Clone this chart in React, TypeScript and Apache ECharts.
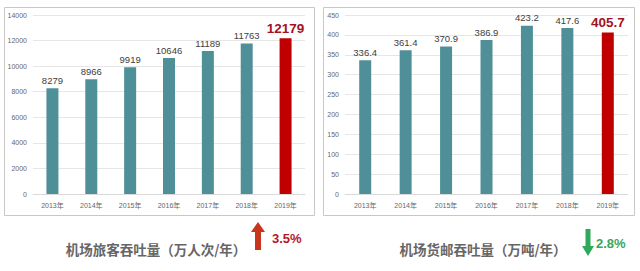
import React, { useEffect, useRef } from "react";
import * as echarts from "echarts";

const years = ["2013年", "2014年", "2015年", "2016年", "2017年", "2018年", "2019年"];
const passengers = [8279, 8966, 9919, 10646, 11189, 11763, 12179];
const cargo = [336.4, 361.4, 370.9, 386.9, 423.2, 417.6, 405.7];
const leftTitle = "机场旅客吞吐量（万人次/年）";
const rightTitle = "机场货邮吞吐量（万吨/年）";
const leftChange = "3.5%";
const rightChange = "2.8%";

const TEAL = "#4f9098";
const RED = "#c00000";
const FONT = "Liberation Sans, Arial, Noto Sans CJK SC, sans-serif";

function barData(vals: number[]) {
  return vals.map((v, i) =>
    i === vals.length - 1
      ? {
          value: v,
          itemStyle: { color: RED },
          label: { fontSize: 13.5, fontWeight: "bold", color: "#a3121f" },
        }
      : { value: v }
  );
}

export default function App() {
  const ref = useRef<HTMLDivElement>(null);
  useEffect(() => {
    if (!ref.current) return;
    const chart = echarts.init(ref.current, undefined, { renderer: "svg" });
    const axisLabel = { fontSize: 7, color: "#666", fontFamily: FONT };
    const splitLine = { show: true, lineStyle: { color: "#e6e6e6", width: 1 } };
    const xAxisCommon = {
      type: "category" as const,
      data: years,
      axisTick: { show: false },
      axisLine: { lineStyle: { color: "#d9d9d9" } },
      axisLabel: { ...axisLabel, margin: 8 },
    };
    const labelCommon = {
      show: true,
      position: "top" as const,
      distance: 3,
      fontSize: 9.5,
      color: "#404040",
      fontFamily: FONT,
    };
    chart.setOption({
      animation: false,
      textStyle: { fontFamily: FONT },
      grid: [
        { left: 33, right: 335, top: 15, bottom: 77 },
        { left: 345, right: 12, top: 15, bottom: 77 },
      ],
      xAxis: [
        { ...xAxisCommon, gridIndex: 0 },
        { ...xAxisCommon, gridIndex: 1 },
      ],
      yAxis: [
        {
          type: "value",
          gridIndex: 0,
          min: 0,
          max: 14000,
          interval: 2000,
          axisLabel: { ...axisLabel, margin: 6, formatter: (v: number) => String(v) },
          axisLine: { show: false },
          axisTick: { show: false },
          splitLine,
        },
        {
          type: "value",
          gridIndex: 1,
          min: 0,
          max: 450,
          interval: 50,
          axisLabel: { ...axisLabel, margin: 6, formatter: (v: number) => String(v) },
          axisLine: { show: false },
          axisTick: { show: false },
          splitLine,
        },
      ],
      series: [
        {
          type: "bar",
          xAxisIndex: 0,
          yAxisIndex: 0,
          barWidth: 12,
          itemStyle: { color: TEAL },
          label: labelCommon,
          data: barData(passengers),
        },
        {
          type: "bar",
          xAxisIndex: 1,
          yAxisIndex: 1,
          barWidth: 12,
          itemStyle: { color: TEAL },
          label: {
            ...labelCommon,
            formatter: (p: any) => Number(p.value).toFixed(1),
          },
          data: barData(cargo),
        },
      ],
      graphic: [
        {
          type: "rect",
          shape: { x: 4.5, y: 7.5, width: 310, height: 208 },
          style: { fill: "none", stroke: "#c8c8c8", lineWidth: 1 },
          z: 0,
        },
        {
          type: "rect",
          shape: { x: 323.5, y: 7.5, width: 311, height: 208 },
          style: { fill: "none", stroke: "#c8c8c8", lineWidth: 1 },
          z: 0,
        },
        {
          type: "text",
          x: 156,
          y: 249,
          style: {
            text: leftTitle,
            fill: "#666666",
            fontSize: 13.5,
            fontWeight: "bold",
            fontFamily: "Noto Sans CJK SC, sans-serif",
            align: "center",
            verticalAlign: "middle",
          },
        },
        {
          type: "text",
          x: 483,
          y: 249,
          style: {
            text: rightTitle,
            fill: "#666666",
            fontSize: 13.5,
            fontWeight: "bold",
            fontFamily: "Noto Sans CJK SC, sans-serif",
            align: "center",
            verticalAlign: "middle",
          },
        },
        {
          type: "polygon",
          shape: {
            points: [
              [258, 222],
              [265, 232],
              [261, 232],
              [261, 250],
              [255, 250],
              [255, 232],
              [251, 232],
            ],
          },
          style: { fill: "#c8341e" },
        },
        {
          type: "text",
          x: 272,
          y: 238,
          style: {
            text: leftChange,
            fill: "#b5172b",
            fontSize: 13,
            fontWeight: "bold",
            fontFamily: FONT,
            align: "left",
            verticalAlign: "middle",
          },
        },
        {
          type: "polygon",
          shape: {
            points: [
              [585.5, 229],
              [590.5, 229],
              [590.5, 246],
              [594, 246],
              [588, 256],
              [582, 246],
              [585.5, 246],
            ],
          },
          style: { fill: "#2ea85a" },
        },
        {
          type: "text",
          x: 596,
          y: 243,
          style: {
            text: rightChange,
            fill: "#3aa55a",
            fontSize: 13,
            fontWeight: "bold",
            fontFamily: FONT,
            align: "left",
            verticalAlign: "middle",
          },
        },
      ],
    });
    return () => chart.dispose();
  }, []);
  return (
    <div
      ref={ref}
      style={{ position: "fixed", left: 0, top: 0, width: 640, height: 271, background: "#fff" }}
    />
  );
}
